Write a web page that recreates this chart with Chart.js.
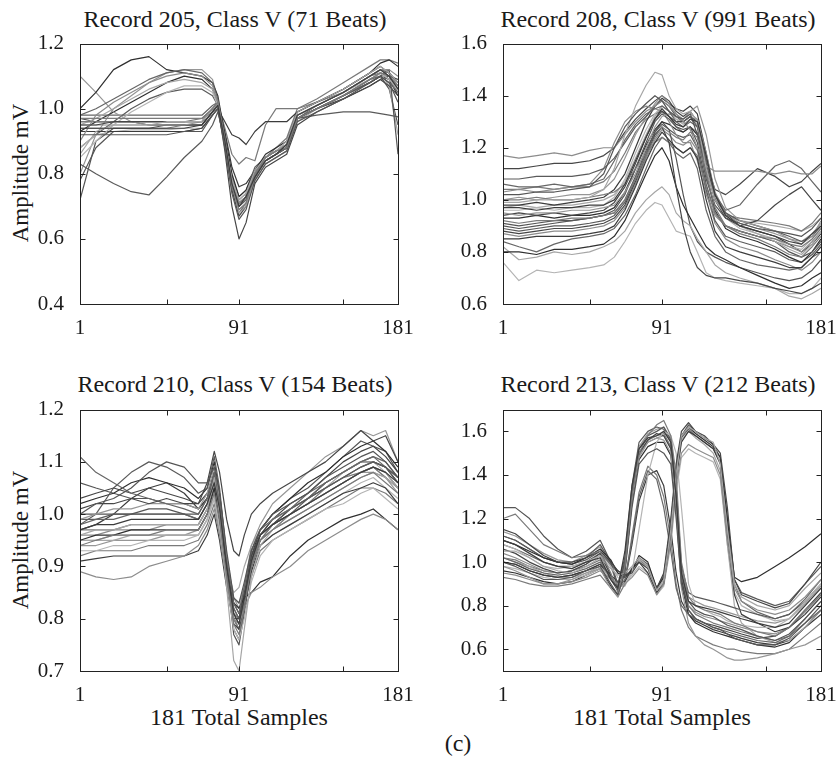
<!DOCTYPE html>
<html>
<head>
<meta charset="utf-8">
<script src="https://cdn.jsdelivr.net/npm/chart.js@4.4.1/dist/chart.umd.min.js"></script>
<style>
  html, body { margin: 0; padding: 0; background: #fff; overflow: hidden; }
  body { width: 837px; height: 760px; position: relative; font-family: "Liberation Serif", "Tinos", "Times New Roman", "Nimbus Roman", "DejaVu Serif", "Noto Serif", serif; color: #1a1a1a; }
  canvas { position: absolute; }
  .txt { position: absolute; font-size: 24px; line-height: 24px; white-space: nowrap; transform: translateX(-50%); }
  .ylab { position: absolute; font-size: 23px; line-height: 23px; white-space: nowrap; transform: translate(-50%, -50%) rotate(-90deg); }
</style>
</head>
<body>
<div class="txt" style="left:235px; top:7px">Record 205, Class V (71 Beats)</div>
<div class="txt" style="left:658px; top:7px">Record 208, Class V (991 Beats)</div>
<div class="txt" style="left:235px; top:372px">Record 210, Class V (154 Beats)</div>
<div class="txt" style="left:658px; top:372px">Record 213, Class V (212 Beats)</div>
<div class="ylab" style="left:20px; top:173px">Amplitude mV</div>
<div class="ylab" style="left:20px; top:540px">Amplitude mV</div>
<div class="txt" style="left:239px; top:705px">181 Total Samples</div>
<div class="txt" style="left:662px; top:705px">181 Total Samples</div>
<div class="txt" style="left:458px; top:731px">(c)</div>

<canvas id="c205" width="408" height="321" style="left:20px; top:23px"></canvas>
<canvas id="c208" width="408" height="321" style="left:443px; top:23px"></canvas>
<canvas id="c210" width="408" height="322" style="left:20px; top:389px"></canvas>
<canvas id="c213" width="408" height="322" style="left:443px; top:389px"></canvas>

<script>
// x axis: sample index, ticks at 1 50 91 150 181, only 1/91/181 labelled
const xTicks = [1, 50, 91, 150, 181];
const xLabels = [1, 91, 181];

const greys = ["#3c3c3c", "#7a7a7a", "#555555", "#a6a6a6", "#464646", "#8c8c8c", "#666666", "#b4b4b4", "#2f2f2f", "#969696", "#5a5a5a"];

// Record 205
const xs205 = [1, 10, 20, 30, 40, 50, 60, 70, 76, 79, 83, 87, 91, 95, 100, 106, 112, 118, 124, 135, 150, 165, 171, 176, 181];
const yTicks205 = [0.4, 0.6, 0.8, 1.0, 1.2];
const beats205 = [
  [0.94,0.94,0.94,0.94,0.94,0.94,0.94,0.95,0.99,1.01,0.90,0.77,0.70,0.73,0.79,0.84,0.86,0.89,0.98,1.01,1.05,1.10,1.12,1.10,1.06],
  [0.97,0.97,0.97,0.97,0.97,0.97,0.97,0.97,1.00,1.02,0.91,0.76,0.69,0.71,0.80,0.85,0.87,0.88,0.97,1.00,1.04,1.09,1.11,1.10,1.07],
  [0.92,0.92,0.92,0.92,0.92,0.92,0.93,0.93,0.98,1.00,0.88,0.74,0.66,0.69,0.78,0.83,0.85,0.87,0.96,0.99,1.03,1.08,1.10,1.08,1.02],
  [0.86,0.93,0.95,0.95,0.95,0.96,0.96,0.96,1.00,1.01,0.90,0.78,0.72,0.74,0.81,0.85,0.87,0.90,0.99,1.02,1.06,1.11,1.13,1.11,1.08],
  [0.95,0.95,0.96,0.96,0.96,0.96,0.96,0.96,1.00,1.01,0.87,0.70,0.60,0.65,0.77,0.82,0.84,0.86,0.95,0.99,1.03,1.07,1.09,1.07,1.04],
  [0.90,0.98,1.02,1.05,1.08,1.10,1.11,1.10,1.07,1.02,0.90,0.78,0.71,0.73,0.80,0.85,0.87,0.89,0.98,1.01,1.05,1.10,1.12,1.12,1.10],
  [0.98,1.00,1.03,1.06,1.09,1.11,1.12,1.11,1.08,1.03,0.91,0.78,0.70,0.72,0.79,0.84,0.86,0.88,0.97,1.00,1.04,1.09,1.10,1.08,1.05],
  [0.85,0.90,0.95,0.99,1.02,1.05,1.07,1.07,1.05,1.01,0.89,0.77,0.69,0.71,0.79,0.84,0.86,0.89,0.98,1.01,1.05,1.09,1.11,1.09,1.06],
  [1.00,1.05,1.12,1.15,1.16,1.12,1.11,1.10,1.08,1.04,0.92,0.80,0.73,0.75,0.81,0.86,0.88,0.90,0.99,1.02,1.06,1.11,1.14,1.15,1.13],
  [1.10,1.05,0.99,0.96,0.95,0.95,0.95,0.96,1.00,1.02,0.91,0.79,0.72,0.74,0.81,0.85,0.87,0.89,0.98,1.01,1.05,1.10,1.12,1.10,1.07],
  [0.83,0.80,0.77,0.745,0.735,0.79,0.85,0.90,0.95,0.99,0.90,0.79,0.73,0.75,0.82,0.85,0.87,0.89,0.97,0.98,0.99,0.99,0.985,0.98,0.975],
  [0.93,0.93,0.93,0.93,0.93,0.93,0.93,0.94,0.98,1.00,0.96,0.92,0.91,0.89,0.93,0.96,0.96,0.96,0.99,1.02,1.06,1.11,1.13,1.11,1.08],
  [0.96,0.96,0.96,0.96,0.96,0.96,0.96,0.97,1.00,1.02,0.94,0.86,0.83,0.85,0.84,0.95,1.00,1.00,1.00,1.02,1.05,1.10,1.11,1.09,1.06],
  [0.72,0.90,0.94,0.94,0.94,0.95,0.95,0.95,0.99,1.01,0.90,0.78,0.71,0.73,0.80,0.84,0.86,0.88,0.97,1.00,1.04,1.08,1.10,1.12,0.86],
  [0.95,0.97,1.00,1.03,1.06,1.08,1.09,1.08,1.06,1.02,0.90,0.77,0.68,0.70,0.78,0.83,0.85,0.87,0.96,1.00,1.04,1.08,1.11,1.07,0.92],
  [0.97,0.96,0.96,0.96,0.95,0.95,0.95,0.95,0.99,1.01,0.89,0.75,0.67,0.70,0.79,0.84,0.86,0.88,0.97,1.00,1.03,1.07,1.09,1.10,1.09],
  [0.95,0.95,0.95,0.95,0.95,0.95,0.95,0.95,0.99,1.01,0.89,0.76,0.68,0.70,0.78,0.83,0.85,0.87,0.97,1.00,1.04,1.09,1.11,1.09,1.05],
  [0.98,0.98,0.98,0.98,0.98,0.98,0.98,0.98,1.01,1.02,0.91,0.78,0.71,0.73,0.80,0.85,0.87,0.88,0.97,1.01,1.05,1.10,1.12,1.11,1.08],
  [0.88,0.92,0.93,0.935,0.935,0.935,0.94,0.94,0.98,1.00,0.89,0.76,0.69,0.71,0.79,0.84,0.86,0.88,0.97,1.00,1.04,1.09,1.11,1.10,1.07],
  [0.93,0.96,0.99,1.02,1.05,1.08,1.10,1.09,1.06,1.02,0.90,0.77,0.70,0.72,0.79,0.84,0.86,0.88,0.97,1.00,1.04,1.08,1.10,1.09,1.04],
  [0.80,0.92,1.00,1.04,1.08,1.11,1.12,1.12,1.09,1.03,0.91,0.79,0.72,0.74,0.80,0.85,0.87,0.89,0.98,1.01,1.05,1.10,1.12,1.11,1.07],
  [0.88,0.92,0.96,1.00,1.03,1.05,1.06,1.06,1.04,1.01,0.90,0.78,0.71,0.73,0.80,0.84,0.86,0.88,0.97,1.00,1.04,1.09,1.11,1.10,1.06],
  [0.96,0.96,0.96,0.96,0.96,0.96,0.96,0.96,1.00,1.02,0.93,0.82,0.76,0.77,0.81,0.85,0.87,0.89,0.98,1.01,1.05,1.10,1.12,1.10,1.07],
  [0.94,0.94,0.94,0.94,0.94,0.94,0.95,0.95,0.99,1.01,0.90,0.78,0.71,0.73,0.80,0.85,0.88,0.91,1.00,1.03,1.08,1.13,1.15,1.15,1.14],
  [0.78,0.88,0.93,0.93,0.93,0.93,0.93,0.94,0.98,1.00,0.89,0.76,0.68,0.71,0.79,0.84,0.86,0.88,0.97,1.00,1.04,1.08,1.10,1.06,0.95]
];

// Record 208
const xs208 = [1, 10, 20, 30, 40, 50, 58, 64, 70, 76, 82, 87, 91, 95, 99, 103, 107, 111, 116, 121, 127, 135, 145, 155, 163, 170, 176, 181];
const yTicks208 = [0.6, 0.8, 1.0, 1.2, 1.4, 1.6];
const beats208 = [
  [0.97,0.97,0.96,0.97,0.97,0.98,0.98,1.00,1.06,1.15,1.24,1.31,1.35,1.32,1.29,1.28,1.31,1.30,1.17,1.02,0.94,0.90,0.88,0.86,0.84,0.83,0.87,0.90],
  [0.92,0.91,0.92,0.92,0.93,0.93,0.94,0.95,1.00,1.08,1.17,1.24,1.28,1.26,1.24,1.23,1.26,1.24,1.10,0.97,0.90,0.87,0.85,0.82,0.79,0.78,0.82,0.86],
  [1.02,1.02,1.03,1.03,1.04,1.05,1.10,1.20,1.28,1.33,1.37,1.40,1.38,1.34,1.32,1.31,1.33,1.25,1.08,0.98,0.93,0.91,0.89,0.88,0.87,0.86,0.89,0.93],
  [0.99,0.99,1.00,1.00,1.00,1.01,1.04,1.12,1.25,1.36,1.44,1.49,1.48,1.40,1.35,1.33,1.34,1.30,1.12,1.00,0.94,0.90,0.87,0.84,0.81,0.79,0.83,0.88],
  [0.88,0.87,0.88,0.89,0.89,0.90,0.91,0.93,0.98,1.07,1.17,1.25,1.28,1.22,1.05,0.90,0.80,0.74,0.71,0.70,0.70,0.69,0.68,0.66,0.65,0.64,0.66,0.68],
  [1.17,1.16,1.17,1.18,1.17,1.19,1.20,1.20,1.25,1.30,1.34,1.36,1.38,1.36,1.33,1.30,1.27,1.20,1.13,1.11,1.11,1.11,1.11,1.10,1.11,1.10,1.10,1.13],
  [1.06,1.05,1.05,1.06,1.05,1.06,1.08,1.15,1.23,1.29,1.33,1.35,1.36,1.34,1.30,1.28,1.30,1.28,1.15,1.02,0.96,0.98,1.06,1.13,1.15,1.12,1.07,1.03],
  [0.76,0.69,0.73,0.72,0.73,0.74,0.75,0.78,0.84,0.91,0.96,0.99,0.98,0.93,0.88,0.87,0.86,0.80,0.72,0.70,0.69,0.68,0.67,0.66,0.64,0.64,0.66,0.70],
  [0.80,0.80,0.79,0.81,0.81,0.82,0.83,0.86,0.92,1.01,1.10,1.17,1.20,1.15,1.05,0.98,0.93,0.88,0.82,0.79,0.77,0.74,0.71,0.68,0.66,0.67,0.70,0.72],
  [0.95,0.94,0.95,0.95,0.96,0.96,0.97,0.98,1.03,1.10,1.20,1.28,1.32,1.33,1.32,1.31,1.34,1.36,1.25,1.08,0.97,0.92,0.90,0.88,0.85,0.83,0.86,0.92],
  [1.08,1.08,1.09,1.09,1.09,1.10,1.12,1.16,1.22,1.28,1.32,1.36,1.38,1.36,1.32,1.30,1.32,1.28,1.12,1.00,0.95,0.92,0.90,0.88,0.86,0.84,0.86,0.90],
  [0.85,0.85,0.86,0.86,0.86,0.87,0.88,0.90,0.96,1.05,1.15,1.22,1.26,1.23,1.20,1.18,1.20,1.16,1.00,0.88,0.82,0.80,0.78,0.76,0.74,0.74,0.78,0.82],
  [1.00,1.00,1.01,1.00,1.00,1.01,1.02,1.03,1.06,1.12,1.18,1.22,1.24,1.22,1.20,1.18,1.20,1.17,1.05,0.95,0.90,0.88,0.86,0.85,0.83,0.82,0.85,0.89],
  [0.90,0.89,0.90,0.91,0.92,0.93,0.94,0.96,1.02,1.12,1.22,1.30,1.33,1.31,1.28,1.27,1.28,1.22,1.06,0.95,0.90,0.88,0.86,0.84,0.80,0.78,0.80,0.84],
  [0.82,0.77,0.78,0.80,0.79,0.80,0.82,0.84,0.88,0.95,1.00,1.03,1.05,1.02,0.95,0.92,0.90,0.85,0.80,0.75,0.72,0.70,0.68,0.66,0.63,0.62,0.64,0.66],
  [0.94,0.95,0.94,0.95,0.94,0.95,0.96,0.99,1.05,1.14,1.24,1.31,1.34,1.32,1.30,1.30,1.32,1.30,1.15,1.00,0.93,0.90,0.92,0.98,1.02,1.05,1.00,0.96],
  [1.03,1.04,1.03,1.04,1.05,1.06,1.12,1.22,1.30,1.34,1.36,1.35,1.34,1.30,1.25,1.22,1.22,1.15,1.02,0.94,0.90,0.88,0.86,0.84,0.82,0.80,0.84,0.88],
  [0.84,0.82,0.80,0.83,0.85,0.86,0.87,0.89,0.94,1.02,1.12,1.20,1.24,1.22,1.18,1.16,1.18,1.12,0.96,0.86,0.80,0.77,0.75,0.74,0.73,0.74,0.78,0.80],
  [0.96,0.96,0.97,0.96,0.97,0.97,0.98,1.01,1.08,1.18,1.27,1.33,1.36,1.34,1.31,1.30,1.32,1.29,1.14,1.00,0.93,0.89,0.87,0.85,0.82,0.81,0.85,0.89],
  [0.93,0.93,0.94,0.93,0.94,0.94,0.95,0.97,1.03,1.12,1.21,1.27,1.30,1.29,1.27,1.26,1.28,1.25,1.10,0.96,0.89,0.86,0.84,0.81,0.78,0.76,0.80,0.85],
  [1.00,1.01,1.00,1.01,1.02,1.02,1.04,1.08,1.16,1.25,1.32,1.37,1.40,1.37,1.33,1.31,1.33,1.31,1.18,1.03,0.95,0.91,0.89,0.87,0.85,0.84,0.87,0.91],
  [0.89,0.88,0.89,0.90,0.90,0.91,0.92,0.94,0.99,1.08,1.18,1.26,1.29,1.27,1.25,1.24,1.25,1.20,1.04,0.92,0.86,0.84,0.82,0.80,0.77,0.76,0.79,0.83],
  [0.98,0.98,0.99,0.98,0.99,1.00,1.01,1.04,1.10,1.20,1.30,1.36,1.39,1.37,1.35,1.34,1.36,1.33,1.18,1.02,0.95,0.90,0.88,0.86,0.83,0.80,0.83,0.87],
  [1.04,1.04,1.05,1.04,1.05,1.05,1.07,1.11,1.18,1.26,1.31,1.33,1.34,1.32,1.28,1.26,1.28,1.26,1.12,1.00,0.94,0.93,0.92,0.91,0.90,0.88,0.91,0.95],
  [0.91,0.90,0.91,0.92,0.92,0.93,0.94,0.95,1.00,1.09,1.19,1.26,1.30,1.27,1.16,1.02,0.90,0.84,0.80,0.78,0.76,0.74,0.72,0.70,0.69,0.70,0.73,0.77],
  [0.97,0.98,0.97,0.98,0.98,0.99,1.00,1.02,1.07,1.16,1.25,1.32,1.36,1.34,1.31,1.29,1.31,1.29,1.16,1.01,0.94,0.92,0.91,0.90,0.89,0.88,0.90,0.93],
  [1.12,1.12,1.13,1.14,1.14,1.15,1.17,1.20,1.26,1.31,1.35,1.38,1.40,1.38,1.34,1.32,1.34,1.30,1.14,1.04,1.02,1.06,1.12,1.09,1.05,1.07,1.11,1.14],
  [0.87,0.86,0.87,0.88,0.88,0.89,0.90,0.92,0.97,1.06,1.16,1.23,1.27,1.25,1.22,1.21,1.23,1.19,1.03,0.91,0.85,0.82,0.80,0.77,0.75,0.73,0.76,0.80]
];

// Record 210
const xs210 = [1, 10, 20, 30, 40, 50, 60, 68, 73, 77, 80, 84, 88, 91, 94, 98, 103, 110, 120, 130, 140, 150, 160, 167, 174, 181];
const yTicks210 = [0.7, 0.8, 0.9, 1.0, 1.1, 1.2];
const beats210 = [
  [0.97,0.98,0.98,0.99,0.99,0.99,0.99,0.99,1.02,1.06,1.01,0.90,0.81,0.79,0.84,0.91,0.96,0.98,1.00,1.02,1.04,1.06,1.08,1.09,1.08,1.06],
  [0.94,0.95,0.96,0.96,0.96,0.97,0.97,0.97,1.00,1.04,0.99,0.88,0.79,0.77,0.82,0.90,0.95,0.97,0.99,1.01,1.03,1.05,1.07,1.08,1.06,1.04],
  [1.00,1.02,1.03,1.05,1.08,1.10,1.09,1.06,1.06,1.09,1.04,0.93,0.84,0.83,0.87,0.93,0.97,1.00,1.02,1.04,1.07,1.09,1.11,1.12,1.10,1.07],
  [0.96,0.97,0.97,0.98,0.98,0.98,0.98,0.98,1.01,1.07,1.00,0.86,0.72,0.70,0.78,0.88,0.94,0.97,0.99,1.01,1.03,1.05,1.07,1.08,1.07,1.05],
  [1.01,1.02,1.02,1.03,1.02,1.03,1.02,1.02,1.06,1.12,1.08,0.99,0.93,0.92,0.96,1.00,1.02,1.04,1.06,1.08,1.10,1.13,1.16,1.14,1.15,1.10],
  [0.89,0.88,0.875,0.88,0.90,0.91,0.92,0.94,0.97,1.01,0.96,0.87,0.80,0.79,0.82,0.85,0.86,0.88,0.90,0.93,0.95,0.97,0.99,1.00,0.99,0.97],
  [1.11,1.08,1.06,1.04,1.03,1.02,1.01,1.00,1.03,1.08,1.02,0.91,0.83,0.81,0.86,0.93,0.97,0.99,1.01,1.04,1.06,1.08,1.10,1.11,1.10,1.07],
  [0.93,0.93,0.94,0.94,0.95,0.95,0.95,0.96,0.99,1.03,0.97,0.87,0.78,0.76,0.80,0.87,0.92,0.95,0.97,0.99,1.01,1.02,1.04,1.05,1.03,1.01],
  [0.95,0.96,0.96,0.97,0.97,0.97,0.97,0.97,1.00,1.05,0.99,0.90,0.83,0.82,0.84,0.85,0.87,0.88,0.92,0.95,0.97,0.99,1.00,1.01,0.99,0.97],
  [0.99,1.00,1.01,1.01,1.02,1.02,1.02,1.01,1.04,1.09,1.02,0.92,0.84,0.82,0.86,0.94,0.98,1.02,1.05,1.08,1.11,1.13,1.16,1.15,1.16,1.10],
  [0.98,1.00,1.05,1.08,1.10,1.09,1.07,1.04,1.05,1.11,1.05,0.92,0.81,0.79,0.84,0.91,0.96,0.98,1.00,1.03,1.05,1.07,1.09,1.10,1.09,1.06],
  [0.91,0.915,0.92,0.92,0.92,0.92,0.92,0.93,0.96,1.00,0.95,0.86,0.79,0.78,0.82,0.89,0.94,0.96,0.98,1.00,1.02,1.04,1.05,1.06,1.05,1.02],
  [0.97,0.97,0.97,0.98,0.98,0.98,0.98,0.98,1.01,1.05,0.99,0.89,0.80,0.78,0.83,0.91,0.95,0.98,1.00,1.02,1.05,1.07,1.08,1.09,1.07,1.05],
  [1.00,1.00,1.00,1.00,1.01,1.01,1.00,1.00,1.03,1.08,1.01,0.89,0.77,0.75,0.81,0.90,0.95,0.98,1.01,1.03,1.05,1.07,1.09,1.10,1.09,1.07],
  [0.95,0.95,0.95,0.96,0.96,0.96,0.96,0.96,0.99,1.03,0.98,0.90,0.85,0.86,0.90,0.94,0.97,0.99,1.01,1.03,1.05,1.08,1.10,1.10,1.08,1.05],
  [1.03,1.04,1.05,1.04,1.05,1.04,1.03,1.02,1.04,1.07,1.02,0.90,0.80,0.80,0.85,0.92,0.96,0.99,1.02,1.04,1.07,1.10,1.12,1.13,1.11,1.08],
  [0.96,0.96,0.97,0.97,0.97,0.98,0.98,0.98,1.01,1.05,1.00,0.89,0.80,0.78,0.83,0.90,0.95,0.97,1.00,1.02,1.04,1.06,1.08,1.09,1.07,1.05],
  [0.98,0.99,0.99,1.00,1.00,1.00,1.00,0.99,1.02,1.07,1.01,0.90,0.82,0.80,0.85,0.92,0.96,0.99,1.01,1.03,1.06,1.08,1.10,1.11,1.09,1.07],
  [0.95,0.95,0.96,0.96,0.96,0.96,0.96,0.96,0.99,1.04,0.98,0.88,0.80,0.78,0.82,0.89,0.94,0.96,0.98,1.00,1.02,1.04,1.06,1.07,1.05,1.03],
  [1.02,1.03,1.04,1.06,1.07,1.06,1.05,1.03,1.05,1.10,1.04,0.92,0.83,0.81,0.85,0.92,0.97,1.00,1.03,1.06,1.08,1.11,1.13,1.14,1.12,1.09],
  [0.94,0.94,0.95,0.95,0.95,0.96,0.96,0.97,1.00,1.04,0.99,0.90,0.84,0.83,0.86,0.92,0.96,0.98,1.00,1.02,1.04,1.06,1.08,1.08,1.07,1.04],
  [0.99,0.99,1.00,1.00,1.00,1.00,1.00,0.99,1.02,1.06,1.00,0.88,0.78,0.76,0.82,0.90,0.95,0.97,1.00,1.02,1.04,1.06,1.08,1.09,1.08,1.05],
  [0.97,0.98,1.00,1.03,1.05,1.06,1.04,1.01,1.03,1.08,1.02,0.90,0.80,0.78,0.83,0.91,0.96,0.98,1.01,1.03,1.06,1.08,1.10,1.10,1.09,1.06],
  [0.92,0.93,0.93,0.93,0.94,0.94,0.94,0.95,0.98,1.02,0.97,0.88,0.81,0.80,0.83,0.88,0.93,0.95,0.97,0.99,1.01,1.03,1.05,1.05,1.04,1.02],
  [1.06,1.05,1.04,1.03,1.03,1.02,1.02,1.01,1.03,1.07,1.02,0.91,0.82,0.80,0.85,0.93,0.97,1.00,1.03,1.05,1.08,1.11,1.14,1.13,1.12,1.08]
];

// Record 213
const xs213 = [1, 8, 16, 24, 32, 40, 48, 56, 62, 66, 70, 74, 78, 83, 88, 92, 96, 99, 102, 106, 110, 115, 120, 124, 128, 132, 136, 145, 155, 163, 172, 181];
const yTicks213 = [0.6, 0.8, 1.0, 1.2, 1.4, 1.6];
const beats213 = [
  [1.10,1.08,1.04,1.00,0.98,0.97,1.00,1.02,0.92,0.88,1.05,1.35,1.52,1.57,1.58,1.60,1.55,1.30,0.95,0.82,0.80,0.79,0.78,0.77,0.76,0.75,0.74,0.72,0.70,0.72,0.80,0.88],
  [1.20,1.22,1.15,1.08,1.05,1.02,1.03,1.05,0.95,0.86,0.98,1.30,1.50,1.58,1.63,1.65,1.58,1.40,1.00,0.84,0.80,0.78,0.77,0.76,0.74,0.72,0.71,0.68,0.66,0.70,0.78,0.85],
  [1.00,0.98,0.95,0.92,0.92,0.93,0.96,0.98,0.90,0.85,0.95,1.25,1.45,1.50,1.52,1.50,1.45,1.20,0.90,0.78,0.74,0.72,0.70,0.69,0.67,0.65,0.64,0.62,0.62,0.65,0.72,0.80],
  [1.05,1.05,1.02,0.98,0.96,0.95,0.98,1.02,0.97,0.94,0.95,0.98,1.02,0.98,0.87,0.92,1.15,1.40,1.58,1.62,1.60,1.57,1.55,1.45,1.15,0.90,0.84,0.80,0.78,0.80,0.88,0.95],
  [1.15,1.13,1.08,1.03,1.00,1.00,1.02,1.05,1.00,0.96,0.94,0.95,1.00,0.97,0.88,0.95,1.20,1.45,1.60,1.64,1.60,1.58,1.54,1.50,1.25,0.92,0.85,0.82,0.79,0.81,0.90,1.00],
  [0.95,0.94,0.92,0.90,0.90,0.91,0.93,0.96,0.92,0.90,0.90,0.93,0.97,0.94,0.85,0.90,1.10,1.35,1.50,1.54,1.52,1.50,1.48,1.40,1.10,0.88,0.82,0.78,0.76,0.78,0.84,0.92],
  [1.02,1.00,0.97,0.95,0.94,0.95,0.97,1.00,0.93,0.88,0.92,1.10,1.30,1.42,1.38,1.25,1.05,0.88,0.80,0.76,0.74,0.72,0.70,0.69,0.68,0.67,0.66,0.64,0.63,0.66,0.72,0.78],
  [1.08,1.06,1.02,0.98,0.97,0.98,1.00,1.03,0.98,0.93,0.90,0.95,1.15,1.40,1.55,1.60,1.58,1.50,1.25,0.90,0.80,0.78,0.76,0.75,0.73,0.72,0.71,0.70,0.70,0.74,0.82,0.90],
  [1.10,1.08,1.05,1.02,1.00,0.99,1.02,1.06,1.01,0.95,0.93,0.96,1.03,1.00,0.88,0.93,1.18,1.42,1.58,1.62,1.59,1.56,1.53,1.48,1.20,0.93,0.91,0.93,0.98,1.02,1.07,1.13],
  [0.98,0.96,0.93,0.90,0.90,0.92,0.95,0.97,0.88,0.84,0.96,1.28,1.48,1.55,1.57,1.56,1.50,1.25,0.88,0.72,0.66,0.62,0.60,0.58,0.56,0.55,0.55,0.56,0.58,0.60,0.62,0.66],
  [1.12,1.10,1.06,1.02,1.00,0.99,1.02,1.08,1.00,0.90,1.02,1.35,1.55,1.60,1.62,1.61,1.55,1.35,0.98,0.86,0.84,0.83,0.82,0.81,0.80,0.79,0.78,0.76,0.74,0.76,0.82,0.90],
  [1.00,0.99,0.96,0.94,0.93,0.94,0.96,0.99,0.94,0.91,0.91,0.97,1.00,0.95,0.86,0.90,1.12,1.38,1.55,1.60,1.58,1.55,1.52,1.45,1.12,0.85,0.76,0.72,0.68,0.70,0.76,0.84],
  [0.93,0.92,0.90,0.89,0.89,0.90,0.92,0.94,0.88,0.84,0.90,1.12,1.32,1.44,1.40,1.30,1.10,0.90,0.78,0.70,0.66,0.64,0.62,0.61,0.60,0.60,0.59,0.58,0.58,0.60,0.66,0.72],
  [1.25,1.25,1.20,1.12,1.06,1.02,1.05,1.10,1.00,0.88,1.00,1.32,1.52,1.58,1.60,1.62,1.56,1.32,0.95,0.82,0.78,0.76,0.75,0.73,0.71,0.70,0.69,0.66,0.64,0.67,0.74,0.82],
  [1.02,1.00,0.98,0.95,0.93,0.93,0.95,0.98,0.93,0.89,0.89,0.96,1.01,0.97,0.86,0.91,1.14,1.40,1.56,1.60,1.57,1.54,1.50,1.42,1.08,0.80,0.72,0.66,0.63,0.64,0.70,0.78],
  [1.06,1.04,1.00,0.97,0.95,0.96,0.99,1.04,0.94,0.87,1.00,1.30,1.50,1.56,1.59,1.58,1.52,1.28,0.92,0.78,0.74,0.72,0.71,0.70,0.69,0.68,0.67,0.65,0.66,0.70,0.78,0.86],
  [1.04,1.02,0.99,0.96,0.95,0.96,0.99,1.03,0.94,0.88,1.00,1.30,1.50,1.55,1.57,1.58,1.52,1.30,0.94,0.80,0.77,0.75,0.74,0.73,0.72,0.71,0.70,0.68,0.67,0.70,0.77,0.85],
  [1.08,1.06,1.03,1.00,0.98,0.98,1.00,1.04,0.99,0.95,0.93,0.97,1.02,0.99,0.88,0.94,1.17,1.42,1.57,1.61,1.58,1.55,1.52,1.46,1.18,0.90,0.82,0.77,0.74,0.76,0.83,0.92],
  [0.98,0.97,0.95,0.93,0.92,0.92,0.94,0.97,0.93,0.90,0.90,0.94,0.98,0.95,0.85,0.89,1.08,1.32,1.48,1.52,1.50,1.48,1.46,1.38,1.08,0.86,0.80,0.76,0.73,0.74,0.80,0.88],
  [0.96,0.95,0.93,0.91,0.90,0.91,0.94,0.97,0.89,0.85,0.97,1.27,1.47,1.53,1.55,1.55,1.49,1.24,0.90,0.76,0.72,0.70,0.68,0.67,0.66,0.65,0.64,0.62,0.61,0.63,0.70,0.78],
  [1.14,1.12,1.08,1.04,1.01,1.00,1.03,1.07,0.98,0.89,1.01,1.33,1.53,1.59,1.61,1.62,1.57,1.34,0.97,0.84,0.82,0.80,0.79,0.78,0.77,0.76,0.75,0.73,0.72,0.74,0.81,0.89],
  [1.12,1.10,1.06,1.02,1.00,0.99,1.01,1.05,1.00,0.96,0.94,0.96,1.01,0.98,0.87,0.93,1.16,1.43,1.58,1.63,1.60,1.57,1.54,1.48,1.20,0.92,0.86,0.83,0.80,0.82,0.90,0.98],
  [1.00,0.99,0.96,0.94,0.93,0.94,0.96,0.99,0.92,0.87,0.91,1.08,1.28,1.40,1.42,1.35,1.15,0.95,0.82,0.76,0.73,0.71,0.69,0.68,0.67,0.66,0.65,0.63,0.62,0.64,0.70,0.76],
  [1.02,1.01,0.98,0.96,0.95,0.96,0.98,1.01,0.93,0.87,0.99,1.29,1.49,1.56,1.58,1.59,1.53,1.29,0.93,0.80,0.76,0.74,0.72,0.71,0.70,0.69,0.68,0.66,0.64,0.66,0.74,0.82]
];

const tickFont = { family: "'Liberation Serif', 'Tinos', 'Times New Roman', 'Nimbus Roman', 'DejaVu Serif', 'Noto Serif', serif", size: 21 };

// box round the axes with inward tick marks on all four sides
const boxPlugin = {
  id: "box",
  afterDraw(chart) {
    const { ctx, chartArea: a, scales } = chart;
    const L = Math.round(a.left) + 0.5, R = Math.round(a.right) + 0.5;
    const T = Math.round(a.top) + 0.5, B = Math.round(a.bottom) + 0.5;
    ctx.save();
    ctx.strokeStyle = "#222";
    ctx.lineWidth = 1;
    ctx.strokeRect(L, T, R - L, B - T);
    ctx.beginPath();
    scales.x.ticks.forEach(t => {
      const px = Math.round(scales.x.getPixelForValue(t.value)) + 0.5;
      ctx.moveTo(px, B); ctx.lineTo(px, B - 5);
      ctx.moveTo(px, T); ctx.lineTo(px, T + 5);
    });
    scales.y.ticks.forEach(t => {
      const py = Math.round(scales.y.getPixelForValue(t.value)) + 0.5;
      ctx.moveTo(L, py); ctx.lineTo(L + 5, py);
      ctx.moveTo(R, py); ctx.lineTo(R - 5, py);
    });
    ctx.stroke();
    ctx.restore();
  }
};

function makeChart(id, xs, beats, yMin, yMax, yTicks) {
  const datasets = beats.map((vals, i) => ({
    data: xs.map((x, j) => ({ x: x, y: vals[j] })),
    borderColor: greys[i % greys.length],
    borderWidth: 1.2,
    borderJoinStyle: "round",
    pointRadius: 0,
    tension: 0
  }));

  return new Chart(document.getElementById(id), {
    type: "line",
    data: { datasets },
    plugins: [boxPlugin],
    options: {
      responsive: false,
      animation: false,
      devicePixelRatio: 1,
      layout: { padding: { left: 0, top: 20, right: 30, bottom: 0 } },
      plugins: { legend: { display: false }, tooltip: { enabled: false } },
      scales: {
        x: {
          type: "linear",
          min: 1,
          max: 181,
          afterBuildTicks: s => { s.ticks = xTicks.map(v => ({ value: v })); },
          afterFit: s => { s.height = 40; },
          grid: { display: false },
          border: { display: false },
          ticks: {
            autoSkip: false,
            maxRotation: 0,
            padding: 4,
            color: "#1a1a1a",
            font: tickFont,
            callback: v => xLabels.includes(v) ? String(v) : ""
          }
        },
        y: {
          type: "linear",
          min: yMin,
          max: yMax,
          afterBuildTicks: s => { s.ticks = yTicks.map(v => ({ value: v })); },
          afterFit: s => { s.width = 60; },
          grid: { display: false },
          border: { display: false },
          ticks: {
            autoSkip: false,
            padding: 8,
            color: "#1a1a1a",
            font: tickFont,
            callback: v => v.toFixed(1)
          }
        }
      }
    }
  });
}

makeChart("c205", xs205, beats205, 0.4, 1.2, yTicks205);
makeChart("c208", xs208, beats208, 0.6, 1.6, yTicks208);
makeChart("c210", xs210, beats210, 0.7, 1.2, yTicks210);
makeChart("c213", xs213, beats213, 0.5, 1.7, yTicks213);
</script>
</body>
</html>
